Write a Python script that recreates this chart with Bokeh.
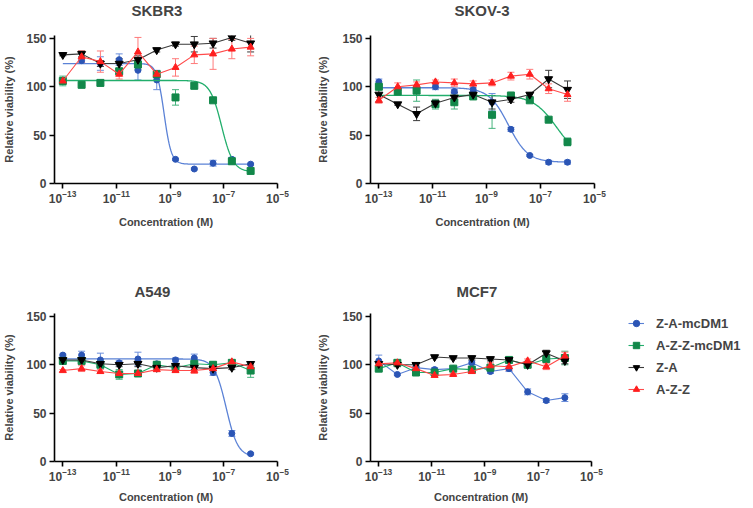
import numpy as np
from bokeh.plotting import figure
from bokeh.models import (Range1d, FixedTicker, Whisker, TeeHead, ColumnDataSource,
                          Legend, LegendItem, LogTickFormatter, Title)
from bokeh.layouts import row, column
from bokeh.embed import file_html
from bokeh.resources import INLINE

# ---------------- data ----------------
conc = [1.024e-13, 5.12e-13, 2.56e-12, 1.28e-11, 6.4e-11, 3.2e-10, 1.6e-9, 8e-9, 4e-8, 2e-7, 1e-6]
series_names = ["Z-A-mcDM1", "A-Z-Z-mcDM1", "Z-A", "A-Z-Z"]
x_ticks = [1e-13, 1e-11, 1e-9, 1e-7, 1e-5]
y_ticks = [0, 50, 100, 150]

# SKBR3
skbr3_za_mcdm1 = [106, 127, 124, 128, 117, 107, 25, 15, 21, 25, 20]
skbr3_za_mcdm1_err = [2, 3, 7, 6, 10, 10, 1, 1, 3, 2, 1]
skbr3_azz_mcdm1 = [106, 102, 104, 116, 123, 113, 89, 101, 86, 23, 13]
skbr3_azz_mcdm1_err = [5, 1, 3, 3, 5, 3, 8, 3, 1, 2, 1]
skbr3_za = [133, 134, 124, 124, 128, 138, 144, 144, 145, 151, 145]
skbr3_za_err = [1, 3, 3, 5, 4, 2, 2, 8, 5, 3, 9]
skbr3_azz = [106, 131, 126, 113, 136, 113, 120, 133, 134, 139, 141]
skbr3_azz_err = [3, 6, 11, 5, 15, 3, 9, 9, 16, 10, 9]
skbr3_fit_za_mcdm1 = [124, 20, -9.22, 3.2]     # top, bottom, logIC50, hill
skbr3_fit_azz_mcdm1 = [106.5, 12, -7.08, 2.0]

# SKOV-3
skov3_za_mcdm1 = [105, 96, 97, 100, 95, 97, 84, 56, 29, 22, 22]
skov3_za_mcdm1_err = [3, 2, 4, 3, 2, 2, 9, 2, 1, 2, 2]
skov3_azz_mcdm1 = [100, 95, 96, 82, 84, 90, 71, 91, 86, 66, 43]
skov3_azz_mcdm1_err = [2, 2, 11, 5, 7, 2, 14, 2, 2, 1, 4]
skov3_za = [92, 82, 72, 83, 89, 92, 84, 87, 92, 108, 97]
skov3_za_err = [8, 1, 7, 3, 5, 2, 7, 3, 2, 9, 9]
skov3_azz = [86, 100, 102, 105, 104, 103, 104, 111, 113, 98, 92]
skov3_azz_err = [3, 4, 3, 2, 4, 3, 3, 4, 5, 5, 7]
skov3_fit_za_mcdm1 = [99, 22, -8.19, 1.2]
skov3_fit_azz_mcdm1 = [91, 25, -6.4, 1.0]

# A549
a549_za_mcdm1 = [110, 110, 105, 102, 106, 101, 105, 107, 92, 29, 8]
a549_za_mcdm1_err = [1, 4, 7, 2, 7, 2, 2, 4, 3, 3, 1]
a549_azz_mcdm1 = [104, 104, 100, 90, 91, 100, 97, 101, 100, 102, 94]
a549_azz_mcdm1_err = [2, 3, 2, 5, 1, 2, 2, 2, 3, 2, 7]
a549_za = [105, 105, 101, 100, 101, 97, 99, 97, 96, 97, 101]
a549_za_err = [1, 2, 2, 2, 3, 2, 2, 2, 2, 2, 2]
a549_azz = [94, 96, 93, 91, 91, 95, 94, 94, 96, 103, 98]
a549_azz_err = [1, 3, 2, 1, 1, 2, 2, 3, 2, 2, 2]
a549_fit_za_mcdm1 = [106, 5, -6.91, 2.0]

# MCF7
mcf7_za_mcdm1 = [104, 90, 97, 95, 96, 102, 93, 96, 72, 63, 66]
mcf7_za_mcdm1_err = [6, 1, 2, 2, 2, 2, 2, 3, 3, 2, 4]
mcf7_azz_mcdm1 = [96, 102, 92, 92, 96, 95, 97, 105, 100, 106, 107]
mcf7_azz_mcdm1_err = [2, 2, 3, 2, 2, 2, 2, 2, 3, 3, 7]
mcf7_za = [101, 100, 100, 108, 107, 107, 106, 105, 100, 112, 104]
mcf7_za_err = [2, 2, 2, 1, 1, 2, 2, 2, 2, 3, 3]
mcf7_azz = [101, 102, 96, 89, 90, 93, 99, 98, 104, 98, 109]
mcf7_azz_err = [2, 2, 2, 1, 1, 2, 3, 4, 2, 3, 4]

# ---------------- styles ----------------
FONT = "Liberation Sans"
marker_colors = ["#2B55B5", "#12884A", "#000000", "#FF1F1F"]
line_colors = ["#5B82D6", "#22AE6C", "#3A3A3A", "#FF4A4A"]
err_colors = ["#6A8EDB", "#45B37D", "#3A3A3A", "#FF7A7A"]
markers = ["circle", "square", "inverted_triangle", "triangle"]
marker_sizes = [6, 7, 8, 7]

X0, X1 = 10 ** -13.3, 1e-5


def style_axes(p):
    for ax in (p.xaxis[0], p.yaxis[0]):
        ax.axis_line_width = 1.6
        ax.axis_line_color = "black"
        ax.major_tick_line_width = 1.6
        ax.major_tick_out = 5
        ax.major_tick_in = 0
        ax.minor_tick_line_color = None
        ax.major_label_text_font = FONT
        ax.major_label_text_font_style = "bold"
        ax.major_label_text_font_size = "12px"
        ax.axis_label_text_font = FONT
        ax.axis_label_text_font_style = "bold"
        ax.axis_label_text_font_size = "11px"


def make_panel(title, values, errs, fits, width, height, b_left, b_right, b_top, b_bottom,
               title_offset, spacer, ylabel_standoff, xlabel_standoff):
    p = figure(width=width, height=height, x_axis_type="log",
               x_range=Range1d(X0, X1), y_range=Range1d(0, 153),
               output_backend="svg", toolbar_location=None,
               min_border_left=b_left, min_border_top=b_top,
               min_border_bottom=b_bottom, min_border_right=b_right)
    p.outline_line_color = None
    p.grid.grid_line_color = None
    p.background_fill_color = "white"
    p.border_fill_color = "white"

    # spacer title (closest to the frame) pushes the real title upwards
    p.add_layout(Title(text=" ", text_font_size="2px", standoff=spacer), "above")
    p.add_layout(Title(text=title, align="left", offset=title_offset, standoff=0,
                       vertical_align="top",
                       text_font=FONT, text_font_style="bold", text_font_size="15px"),
                 "above")

    style_axes(p)
    p.xaxis.ticker = FixedTicker(ticks=x_ticks, minor_ticks=[])
    p.xaxis.formatter = LogTickFormatter()
    p.xaxis.major_label_standoff = 1
    p.xaxis.axis_label = "Concentration (M)"
    p.xaxis.axis_label_standoff = xlabel_standoff

    p.yaxis.ticker = FixedTicker(ticks=y_ticks, minor_ticks=[])
    p.yaxis.axis_label = "Relative viability (%)"
    p.yaxis.axis_label_standoff = ylabel_standoff
    p.yaxis.major_label_standoff = 3

    for i in range(4):
        v = values[i]
        e = errs[i]
        src = ColumnDataSource(dict(x=conc, y=v,
                                    lo=[a - b for a, b in zip(v, e)],
                                    hi=[a + b for a, b in zip(v, e)]))
        p.add_layout(Whisker(source=src, base="x", upper="hi", lower="lo",
                             dimension="height", line_color=err_colors[i], line_width=1,
                             upper_head=TeeHead(size=7, line_color=err_colors[i], line_width=1),
                             lower_head=TeeHead(size=7, line_color=err_colors[i], line_width=1)))
        fit = fits[i]
        if fit is not None:
            top, bottom, logic50, hill = fit
            xs = np.logspace(np.log10(conc[0]), np.log10(conc[-1]), 300)
            ys = bottom + (top - bottom) / (1 + 10 ** (hill * (np.log10(xs) - logic50)))
            p.line(xs, ys, line_color=line_colors[i], line_width=1.3)
        else:
            p.line("x", "y", source=src, line_color=line_colors[i], line_width=1.1)
        p.scatter("x", "y", source=src, marker=markers[i], size=marker_sizes[i],
                  fill_color=marker_colors[i], line_color=marker_colors[i])
    return p


f1 = make_panel("SKBR3",
                [skbr3_za_mcdm1, skbr3_azz_mcdm1, skbr3_za, skbr3_azz],
                [skbr3_za_mcdm1_err, skbr3_azz_mcdm1_err, skbr3_za_err, skbr3_azz_err],
                [skbr3_fit_za_mcdm1, skbr3_fit_azz_mcdm1, None, None],
                width=314, height=280, b_left=53, b_right=37, b_top=35, b_bottom=97,
                title_offset=77, spacer=11, ylabel_standoff=8, xlabel_standoff=10)
f2 = make_panel("SKOV-3",
                [skov3_za_mcdm1, skov3_azz_mcdm1, skov3_za, skov3_azz],
                [skov3_za_mcdm1_err, skov3_azz_mcdm1_err, skov3_za_err, skov3_azz_err],
                [skov3_fit_za_mcdm1, skov3_fit_azz_mcdm1, None, None],
                width=330, height=280, b_left=56, b_right=50, b_top=35, b_bottom=97,
                title_offset=84, spacer=11, ylabel_standoff=10, xlabel_standoff=10)
f3 = make_panel("A549",
                [a549_za_mcdm1, a549_azz_mcdm1, a549_za, a549_azz],
                [a549_za_mcdm1_err, a549_azz_mcdm1_err, a549_za_err, a549_azz_err],
                [a549_fit_za_mcdm1, None, None, None],
                width=314, height=228, b_left=53, b_right=37, b_top=33, b_bottom=47,
                title_offset=80, spacer=8, ylabel_standoff=8, xlabel_standoff=7)
f4 = make_panel("MCF7",
                [mcf7_za_mcdm1, mcf7_azz_mcdm1, mcf7_za, mcf7_azz],
                [mcf7_za_mcdm1_err, mcf7_azz_mcdm1_err, mcf7_za_err, mcf7_azz_err],
                [None, None, None, None],
                width=306, height=228, b_left=53, b_right=29, b_top=33, b_bottom=47,
                title_offset=86, spacer=8, ylabel_standoff=10, xlabel_standoff=7)

# legend panel: renderers reuse the MCF7 series, but the ranges keep them off-frame,
# so only the legend glyphs and labels show
lg = figure(width=133, height=228, output_backend="svg", toolbar_location=None,
            x_axis_location=None, y_axis_location=None,
            x_range=Range1d(0, 1), y_range=Range1d(0, 1),
            min_border_left=8, min_border_right=0, min_border_top=13, min_border_bottom=0)
lg.outline_line_color = None
lg.grid.grid_line_color = None
items = []
mcf7_series = [mcf7_za_mcdm1, mcf7_azz_mcdm1, mcf7_za, mcf7_azz]
for i in range(4):
    src = ColumnDataSource(dict(x=conc, y=mcf7_series[i]))
    lr = lg.line("x", "y", source=src, line_color=line_colors[i], line_width=1.1)
    sr = lg.scatter("x", "y", source=src, marker=markers[i], size=marker_sizes[i] - 1,
                    fill_color=marker_colors[i], line_color=marker_colors[i])
    items.append(LegendItem(label=series_names[i], renderers=[lr, sr]))
legend = Legend(items=items, location="top_left",
                glyph_width=16, glyph_height=20, label_height=20, spacing=2,
                label_standoff=12, padding=8, margin=0,
                border_line_color=None, background_fill_alpha=0,
                label_text_font=FONT, label_text_font_style="bold",
                label_text_font_size="13px")
lg.add_layout(legend, "center")

layout = column(row(f1, f2), row(f3, f4, lg))
open("out.html", "w").write(file_html(layout, INLINE))
